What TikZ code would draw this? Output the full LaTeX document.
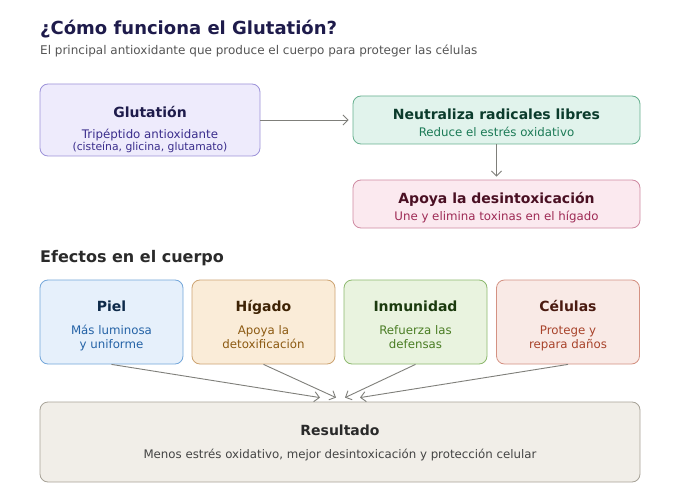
\documentclass[tikz,border=0pt]{standalone}
\usepackage{fontspec}
\setmainfont{DejaVu Sans}
\usepackage{tikz}
\usetikzlibrary{arrows.meta, positioning}

\definecolor{titleblue}{HTML}{1E1B4B}
\definecolor{subgray}{HTML}{555555}
\definecolor{darktext}{HTML}{2A2A2A}
\definecolor{arrowgray}{HTML}{7F7F7A}
\definecolor{glutfill}{HTML}{EEEBFC}
\definecolor{glutline}{HTML}{9D93D9}
\definecolor{glutdark}{HTML}{1E1B4B}
\definecolor{glutsub}{HTML}{3A2D8C}
\definecolor{neutfill}{HTML}{E1F3EC}
\definecolor{neutline}{HTML}{66B08F}
\definecolor{neutdark}{HTML}{0B3B2C}
\definecolor{neutsub}{HTML}{1B7A56}
\definecolor{detoxfill}{HTML}{FBE9EF}
\definecolor{detoxline}{HTML}{CF8AA2}
\definecolor{detoxdark}{HTML}{4A1023}
\definecolor{detoxsub}{HTML}{9E2A55}
\definecolor{pielfill}{HTML}{E6F0FB}
\definecolor{pielline}{HTML}{74A7DA}
\definecolor{pieldark}{HTML}{0E2A4A}
\definecolor{pielsub}{HTML}{2563A6}
\definecolor{higfill}{HTML}{FAECD8}
\definecolor{higline}{HTML}{CDA472}
\definecolor{higdark}{HTML}{3D2204}
\definecolor{higsub}{HTML}{8C5A12}
\definecolor{inmfill}{HTML}{E9F3DF}
\definecolor{inmline}{HTML}{8DB96E}
\definecolor{inmdark}{HTML}{1B3A0E}
\definecolor{inmsub}{HTML}{4A7D24}
\definecolor{celfill}{HTML}{F9EAE6}
\definecolor{celline}{HTML}{D49283}
\definecolor{celdark}{HTML}{4A1A10}
\definecolor{celsub}{HTML}{A8432B}
\definecolor{resfill}{HTML}{F1EEE8}
\definecolor{resline}{HTML}{A8A398}
\definecolor{ressub}{HTML}{444444}

\begin{document}
\begin{tikzpicture}[x=1pt, y=-1pt,
      box/.style={rectangle, rounded corners=8pt, line width=0.8pt, inner sep=0pt},
      head/.style={anchor=base, font=\bfseries\fontsize{14}{17}\selectfont},
      sub/.style={anchor=base, align=center, font=\fontsize{11.8}{14}\selectfont},
      link/.style={-{Straight Barb[length=5pt, width=10pt]}, draw=arrowgray, line width=0.9pt}]

      \useasboundingbox[fill=white] (0,0) rectangle (680,500);

      % Heading
      \node[anchor=base west, inner sep=0pt, text=titleblue, font=\bfseries\fontsize{18}{21}\selectfont] (title) at (40,35) {¿Cómo funciona el Glutatión?};
      \node[anchor=base west, inner sep=0pt, text=subgray, font=\fontsize{12}{14}\selectfont] (subtitle) at (40,55) {El principal antioxidante que produce el cuerpo para proteger las células};

      % Top row
      \node[box, fill=glutfill, draw=glutline, minimum width=220pt, minimum height=72pt] (glut) at (150,120) {};
      \node[head, text=glutdark] (glut-head) at (150,117.5) {Glutatión};
      \node[sub, text=glutsub] (glut-sub) at (150,138.5) {Tripéptido antioxidante};
      \node[sub, text=glutsub, font=\fontsize{10.8}{13}\selectfont] (glut-note) at (150,150.5) {(cisteína, glicina, glutamato)};

      \node[box, fill=neutfill, draw=neutline, minimum width=287pt, minimum height=48pt] (neut) at (496.5,120) {};
      \node[head, text=neutdark] (neut-head) at (496.5,119.3) {Neutraliza radicales libres};
      \node[sub, text=neutsub] (neut-sub) at (496.5,136.7) {Reduce el estrés oxidativo};

      \node[box, fill=detoxfill, draw=detoxline, minimum width=287pt, minimum height=48pt] (detox) at (496.5,204) {};
      \node[head, text=detoxdark] (detox-head) at (496.5,203.3) {Apoya la desintoxicación};
      \node[sub, text=detoxsub] (detox-sub) at (496.5,220) {Une y elimina toxinas en el hígado};

      % Arrows
      \draw[link, shorten >=4pt] (glut.east) -- (neut.west);
      \draw[link, shorten >=3pt] (neut.south) -- (detox.north);

      % Effects
      \node[anchor=base west, inner sep=0pt, text=darktext, font=\bfseries\fontsize{16}{19}\selectfont] (effects) at (40,262.3) {Efectos en el cuerpo};

      \node[box, fill=pielfill, draw=pielline, minimum width=143pt, minimum height=84pt] (piel) at (111.5,322) {};
      \node[head, text=pieldark] (piel-head) at (111.5,311) {Piel};
      \node[sub, text=pielsub] (piel-sub) at (111.5,348.3) {Más luminosa\\y uniforme};

      \node[box, fill=higfill, draw=higline, minimum width=143pt, minimum height=84pt] (higado) at (263.5,322) {};
      \node[head, text=higdark] (higado-head) at (263.5,311) {Hígado};
      \node[sub, text=higsub] (higado-sub) at (263.5,348.3) {Apoya la\\detoxificación};

      \node[box, fill=inmfill, draw=inmline, minimum width=143pt, minimum height=84pt] (inmun) at (415.5,322) {};
      \node[head, text=inmdark] (inmun-head) at (415.5,311) {Inmunidad};
      \node[sub, text=inmsub] (inmun-sub) at (415.5,348.3) {Refuerza las\\defensas};

      \node[box, fill=celfill, draw=celline, minimum width=143pt, minimum height=84pt] (celulas) at (568,322) {};
      \node[head, text=celdark] (celulas-head) at (568,311) {Células};
      \node[sub, text=celsub] (celulas-sub) at (568,348.3) {Protege y\\repara daños};

      % Result
      \node[box, fill=resfill, draw=resline, minimum width=600pt, minimum height=80pt] (result) at (340,442) {};
      \node[head, text=darktext] (result-head) at (340,435) {Resultado};
      \node[sub, text=ressub] (result-sub) at (340,458.3) {Menos estrés oxidativo, mejor desintoxicación y protección celular};

      \foreach \src/\dx in {piel/-20, higado/-4, inmun/5, celulas/20} {
        \draw[link] (\src.south) -- ([xshift=\dx pt, yshift=4pt]result.north);
      }
    \end{tikzpicture}
\end{document}
